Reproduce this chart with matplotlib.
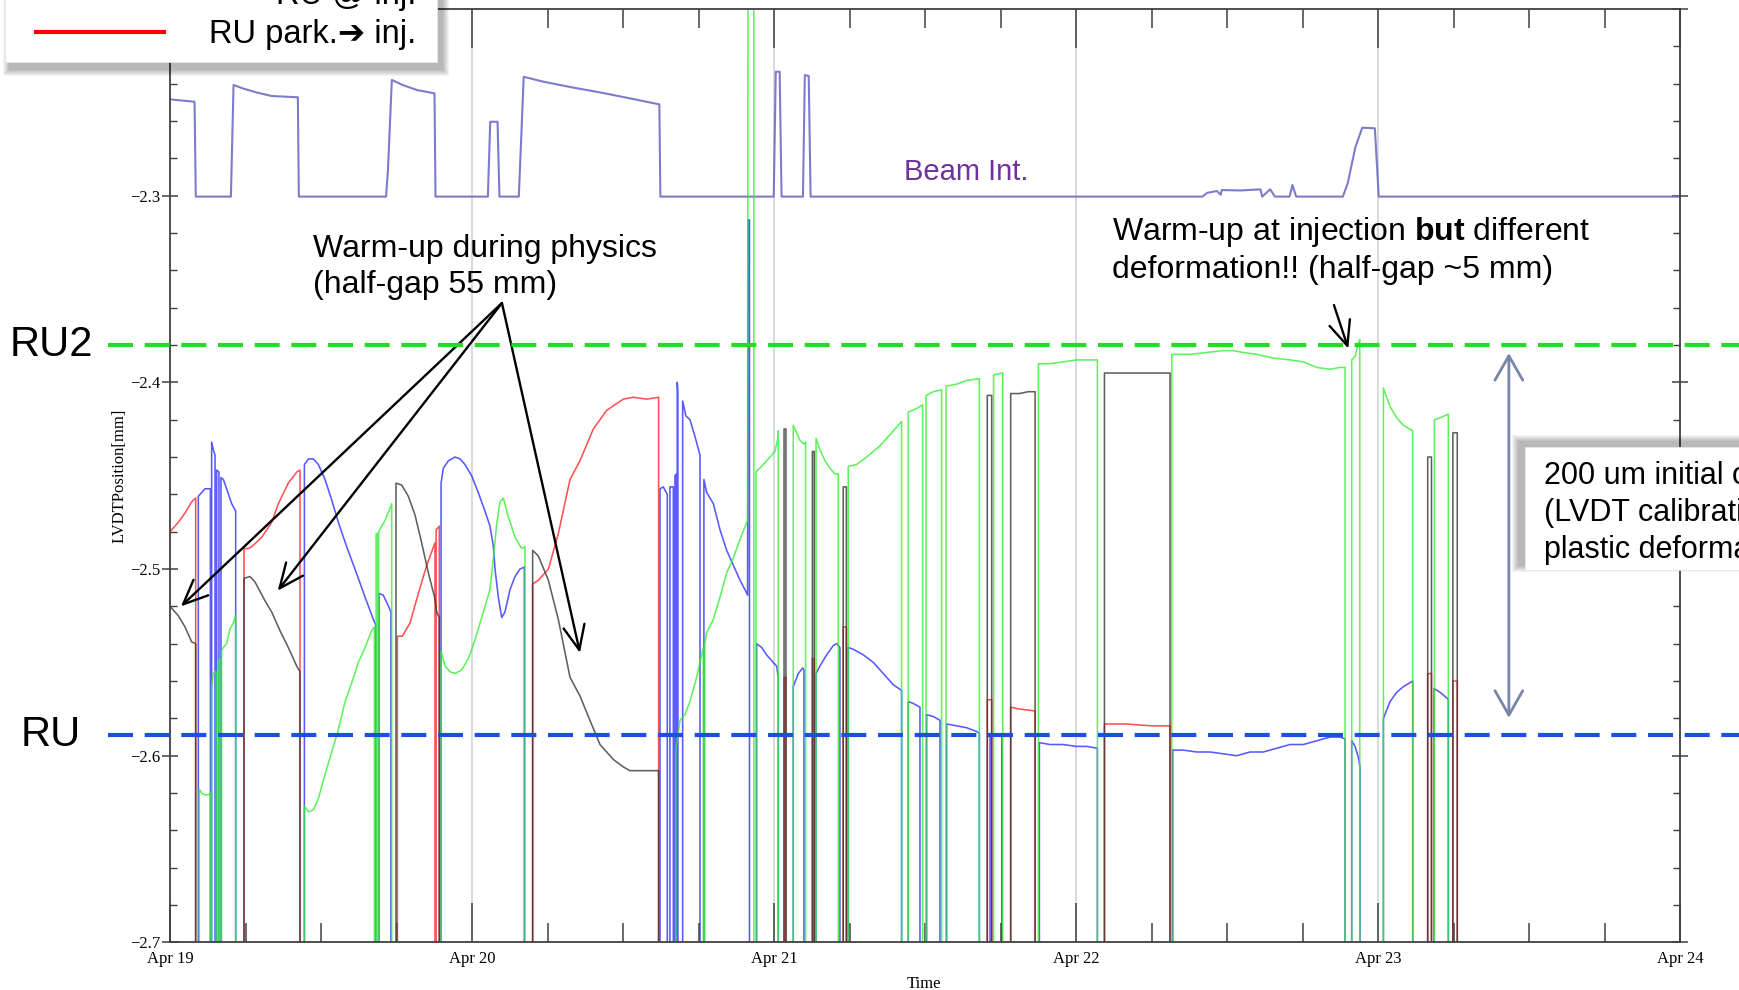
import matplotlib
matplotlib.use('Agg')
import matplotlib.pyplot as plt
import matplotlib.transforms as mtransforms
from matplotlib.patches import Rectangle
from matplotlib.lines import Line2D
import numpy as np

W, H = 1739, 990
plt.rcParams['mathtext.fontset'] = 'custom'
plt.rcParams['mathtext.rm'] = 'Liberation Sans'
plt.rcParams['mathtext.bf'] = 'Liberation Sans:bold'
SANS = ['Liberation Sans', 'DejaVu Sans']
SERIF = 'Liberation Serif'

# ---------------- data (time in hours since Apr 19 00:00, LVDT position in mm) -------------
OFF = -2.95   # reading when sensor channel is off (below chart)

day_labels = ['Apr 19', 'Apr 20', 'Apr 21', 'Apr 22', 'Apr 23', 'Apr 24']
RU2_LEVEL = -2.38
RU_LEVEL = -2.589

beam_t = [0.0, 1.95, 2.05, 4.84, 5.05, 5.77, 6.92, 8.08, 10.16, 10.24, 17.17, 17.32, 17.63, 18.48,
          19.63, 21.02, 21.10, 25.26, 25.45, 26.03, 26.18, 27.72, 28.11, 29.65, 31.96, 34.27, 36.58,
          38.89, 38.97, 47.98, 48.14, 48.45, 48.60, 50.30, 50.45, 50.76, 50.91, 82.04, 82.42, 83.19,
          83.50, 83.58, 85.12, 86.66, 86.80, 87.43, 87.81, 88.97, 89.20, 89.50, 93.21, 93.59, 94.21,
          94.75, 95.75, 96.06, 120.0]
beam_v = [-2.2484, -2.2497, -2.3005, -2.3005, -2.2407, -2.2425, -2.2448, -2.2466, -2.2473, -2.3005,
          -2.3005, -2.2863, -2.2380, -2.2407, -2.2434, -2.2452, -2.3005, -2.3005, -2.2604, -2.2604,
          -2.3005, -2.3005, -2.2363, -2.2389, -2.2420, -2.2448, -2.2479, -2.2511, -2.3005, -2.3005,
          -2.2336, -2.2336, -2.3005, -2.3005, -2.2354, -2.2359, -2.3005, -2.3005, -2.2985, -2.2975,
          -2.2995, -2.2970, -2.2972, -2.2966, -2.3005, -2.2966, -2.3005, -2.3005, -2.2943, -2.3005,
          -2.3005, -2.2934, -2.2738, -2.2636, -2.2639, -2.3005, -2.3005]

red_segments = [
    ([0.0, 0.66, 1.19, 1.72, 2.04], [-2.480, -2.475, -2.470, -2.464, -2.462]),
    ([5.88, 6.23, 6.49, 7.29, 8.08, 8.61, 9.40, 10.07, 10.33],
     [-2.489, -2.489, -2.488, -2.483, -2.475, -2.465, -2.454, -2.448, -2.447]),
    ([18.07, 18.46, 19.07, 19.74, 20.40, 21.06], [-2.536, -2.536, -2.529, -2.513, -2.498, -2.486]),
    ([21.15, 21.40], [-2.479, -2.477]),
    ([28.82, 29.27, 30.07, 30.86, 31.79, 32.58, 33.64, 34.70, 36.02, 36.82, 37.88, 38.83],
     [-2.508, -2.506, -2.500, -2.481, -2.452, -2.442, -2.425, -2.415, -2.409, -2.408, -2.409, -2.408]),
    ([48.80, 48.95], [-2.558, -2.558]),
    ([51.05, 51.20], [-2.548, -2.548]),
    ([53.50, 53.75], [-2.531, -2.531]),
    ([64.95, 65.30], [-2.570, -2.570]),
    ([66.81, 67.50, 68.75], [-2.574, -2.575, -2.576]),
    ([74.26, 76.00, 78.00, 79.47], [-2.583, -2.583, -2.584, -2.584]),
    ([99.95, 100.25], [-2.556, -2.556]),
    ([101.95, 102.30], [-2.560, -2.560]),
]

black_segments = [
    ([0.0, 0.66, 1.19, 1.72, 2.04], [-2.520, -2.525, -2.531, -2.539, -2.540]),
    ([5.88, 6.36, 6.76, 7.55, 8.08, 8.74, 9.40, 10.07, 10.33],
     [-2.505, -2.504, -2.507, -2.517, -2.523, -2.533, -2.542, -2.552, -2.555]),
    ([17.96, 18.41, 18.94, 19.47, 20.00, 20.53, 21.06, 21.19, 21.40],
     [-2.454, -2.455, -2.461, -2.471, -2.486, -2.502, -2.516, -2.523, -2.526]),
    ([28.82, 29.27, 30.07, 30.86, 31.79, 32.58, 33.37, 34.17, 35.23, 36.02, 36.55, 37.88, 38.83],
     [-2.490, -2.493, -2.506, -2.527, -2.558, -2.568, -2.581, -2.594, -2.602, -2.606, -2.608, -2.608, -2.608]),
    ([48.80, 48.95], [-2.425, -2.425]),
    ([51.05, 51.20], [-2.437, -2.437]),
    ([53.50, 53.75], [-2.456, -2.456]),
    ([64.95, 65.30], [-2.407, -2.407]),
    ([66.81, 67.50, 68.20, 68.75], [-2.406, -2.406, -2.405, -2.405]),
    ([74.26, 76.00, 78.00, 79.47], [-2.395, -2.395, -2.395, -2.395]),
    ([99.95, 100.25], [-2.440, -2.440]),
    ([101.95, 102.30], [-2.427, -2.427]),
]

blue_segments = [
    ([2.25, 2.78, 3.21], [-2.461, -2.457, -2.457]),
    ([3.31, 3.44, 3.58], [-2.432, -2.436, -2.439]),
    ([3.71, 3.89], [-2.447, -2.448]),
    ([4.05, 4.24, 4.50, 4.90, 5.22], [-2.451, -2.452, -2.457, -2.465, -2.469]),
    ([10.68, 11.00, 11.39, 11.79, 12.32, 12.85, 13.38, 14.04, 14.70, 15.50, 16.16, 16.35],
     [-2.444, -2.441, -2.441, -2.444, -2.452, -2.463, -2.475, -2.488, -2.500, -2.515, -2.527, -2.530]),
    ([16.61, 16.95, 17.30, 17.56], [-2.513, -2.514, -2.519, -2.523]),
    ([21.54, 21.72, 22.12, 22.65, 23.05, 23.44, 23.97, 24.50, 25.03, 25.43, 25.70, 25.83, 26.09,
      26.36, 26.62, 27.02, 27.42, 27.81, 28.16],
     [-2.454, -2.446, -2.442, -2.440, -2.441, -2.444, -2.450, -2.459, -2.469, -2.477, -2.488, -2.500,
      -2.515, -2.526, -2.523, -2.511, -2.504, -2.500, -2.499]),
    ([38.94, 39.20, 39.52], [-2.457, -2.456, -2.460]),
    ([39.73, 40.00], [-2.456, -2.456]),
    ([40.13, 40.26], [-2.450, -2.449]),
    ([40.31, 40.36], [-2.400, -2.405]),
    ([40.74, 41.00, 41.32, 41.72, 42.12], [-2.410, -2.418, -2.420, -2.429, -2.439]),
    ([42.43, 42.65, 43.18, 43.71, 44.24, 44.77, 45.30, 45.69, 45.90, 45.95, 46.05],
     [-2.452, -2.459, -2.465, -2.479, -2.490, -2.498, -2.506, -2.511, -2.514, -2.313, -2.313]),
    ([46.62, 47.02, 47.41, 47.81, 48.21, 48.34], [-2.540, -2.542, -2.546, -2.549, -2.552, -2.558]),
    ([49.53, 49.93, 50.28, 50.38], [-2.563, -2.556, -2.553, -2.554]),
    ([51.34, 51.65, 52.18, 52.71, 52.98, 53.24], [-2.556, -2.552, -2.546, -2.541, -2.540, -2.542]),
    ([53.90, 54.30, 55.10, 55.89, 56.69, 57.48, 58.14],
     [-2.542, -2.543, -2.546, -2.550, -2.556, -2.562, -2.565]),
    ([58.67, 59.07, 59.60], [-2.571, -2.572, -2.574]),
    ([60.13, 60.66, 61.19], [-2.578, -2.579, -2.581]),
    ([61.72, 62.51, 63.31, 64.10, 64.32], [-2.583, -2.584, -2.585, -2.587, -2.588]),
    ([65.17, 66.10], [-2.589, -2.589]),
    ([69.09, 69.94, 71.00, 72.00, 72.85, 73.70], [-2.593, -2.594, -2.594, -2.595, -2.595, -2.596]),
    ([79.69, 80.53, 81.59, 82.65, 83.71, 84.77, 85.83, 86.89, 87.95, 89.01, 90.07, 91.13, 92.19,
      92.98, 93.38],
     [-2.597, -2.597, -2.598, -2.598, -2.599, -2.600, -2.598, -2.598, -2.596, -2.594, -2.594, -2.592,
      -2.590, -2.590, -2.591]),
    ([93.91, 94.18, 94.44, 94.57], [-2.592, -2.595, -2.601, -2.606]),
    ([96.43, 96.96, 97.49, 98.02, 98.76], [-2.580, -2.571, -2.566, -2.563, -2.560]),
    ([100.45, 100.93, 101.46, 101.59], [-2.564, -2.566, -2.569, -2.570]),
]

green_segments = [
    ([2.33, 2.52, 2.78, 3.05, 3.20], [-2.618, -2.620, -2.621, -2.621, -2.620]),
    ([3.30, 3.44, 3.58, 3.66], [-2.563, -2.556, -2.555, -2.555]),
    ([3.85, 3.95], [-2.550, -2.548]),
    ([4.10, 4.24, 4.50, 4.77, 5.03, 5.22], [-2.544, -2.542, -2.540, -2.532, -2.529, -2.525]),
    ([10.68, 11.00, 11.39, 11.79, 12.32, 12.85, 13.38, 13.91, 14.44, 14.97, 15.50, 16.03, 16.24],
     [-2.627, -2.630, -2.629, -2.623, -2.610, -2.598, -2.586, -2.571, -2.561, -2.550, -2.542, -2.533, -2.531]),
    ([16.38, 16.46], [-2.481, -2.481]),
    ([16.58, 17.09, 17.62], [-2.480, -2.474, -2.465]),
    ([21.54, 21.86, 22.25, 22.65, 23.18, 23.71, 24.24, 24.90, 25.43, 25.70, 25.96, 26.23, 26.49,
      26.89, 27.42, 27.95, 28.21],
     [-2.544, -2.552, -2.555, -2.556, -2.554, -2.548, -2.538, -2.523, -2.511, -2.494, -2.476, -2.464,
      -2.462, -2.472, -2.483, -2.489, -2.488]),
    ([40.20, 40.53, 40.92, 41.32, 41.85, 42.38], [-2.597, -2.581, -2.578, -2.571, -2.558, -2.542]),
    ([42.50, 42.65, 43.18, 43.71, 44.24, 44.77, 45.30, 45.83, 45.90, 45.95, 46.40],
     [-2.540, -2.534, -2.527, -2.515, -2.502, -2.494, -2.484, -2.475, -2.474, -2.0, -2.0]),
    ([46.57, 47.15, 47.68, 48.08, 48.30, 48.34], [-2.448, -2.444, -2.440, -2.437, -2.430, -2.426]),
    ([49.53, 49.80, 50.06, 50.38, 50.51], [-2.423, -2.427, -2.431, -2.433, -2.432]),
    ([51.34, 51.65, 52.05, 52.45, 52.84, 53.11], [-2.430, -2.436, -2.442, -2.446, -2.449, -2.449]),
    ([53.90, 54.57, 55.36, 56.42, 57.22, 58.14], [-2.445, -2.444, -2.440, -2.434, -2.428, -2.421]),
    ([58.67, 59.34, 59.81], [-2.416, -2.414, -2.412]),
    ([60.08, 60.66, 61.32], [-2.407, -2.405, -2.404]),
    ([61.67, 62.51, 63.31, 64.32], [-2.402, -2.401, -2.399, -2.398]),
    ([65.45, 66.18], [-2.396, -2.395]),
    ([69.01, 69.94, 71.00, 72.06, 73.12, 73.70], [-2.390, -2.390, -2.389, -2.388, -2.388, -2.388]),
    ([79.61, 81.06, 82.39, 83.71, 84.51, 85.30, 86.36, 87.69, 89.01, 90.07, 91.13, 92.19, 92.98, 93.38],
     [-2.385, -2.385, -2.384, -2.383, -2.383, -2.384, -2.385, -2.387, -2.388, -2.389, -2.392, -2.393,
      -2.392, -2.392]),
    ([93.91, 94.18, 94.44, 94.55], [-2.388, -2.386, -2.379, -2.377]),
    ([96.43, 96.96, 97.49, 98.02, 98.76], [-2.403, -2.413, -2.419, -2.423, -2.426]),
    ([100.48, 100.93, 101.59], [-2.420, -2.419, -2.417]),
]


def build(segments):
    xs, ys = [], []
    for t, v in segments:
        if t[0] > 0:
            xs.append(t[0]); ys.append(OFF)
        xs.extend(t); ys.extend(v)
        xs.append(t[-1]); ys.append(OFF)
    return xs, ys


# ---------------- figure ----------------
fig = plt.figure(figsize=(W / 100, H / 100), dpi=100)
fig.patch.set_facecolor('white')
ax = fig.add_axes([170 / W, 1 - 942.4 / H, 1510 / W, 933.4 / H])
pix = mtransforms.Affine2D().scale(1 / W, -1 / H).translate(0, 1) + fig.transFigure
blend = mtransforms.blended_transform_factory(pix, ax.transData)

ax.set_xlim(0, 120)
ax.set_ylim(-2.7, -2.2)

for d in [24, 48, 72, 96]:
    ax.axvline(d, color='#d4d4d4', lw=1.2, zorder=0.5)

ax.plot(beam_t, beam_v, color='#6e6ec6', lw=1.5, alpha=0.9, zorder=2)
for segs, col in [(blue_segments, '#2a2aff'), (green_segments, '#33ee33'),
                  (red_segments, '#ff2222'), (black_segments, '#333333')]:
    xs, ys = build(segs)
    ax.plot(xs, ys, color=col, lw=1.15, alpha=0.78, zorder=2)

# axes styling
for s in ax.spines.values():
    s.set_color('#404040')
    s.set_linewidth(1.3)
ax.set_xticks([0, 24, 48, 72, 96, 120])
ax.set_xticklabels(day_labels, fontfamily=SERIF, fontsize=12)
ax.set_xticks(np.arange(0, 121, 6), minor=True)
yt = [-2.7, -2.6, -2.5, -2.4, -2.3, -2.2]
ax.set_yticks(yt)
ax.set_yticklabels(['\u2212%.1f' % abs(v) for v in yt], fontfamily=SERIF, fontsize=12)
ax.set_yticks(np.arange(-2.7, -2.199, 0.02), minor=True)
ax.tick_params(axis='x', which='major', direction='in', length=28, width=1.1, color='#404040',
               top=True, pad=6)
ax.tick_params(axis='x', which='minor', direction='in', length=14, width=1.1, color='#404040', top=True)
ax.tick_params(axis='y', which='major', direction='inout', length=12, width=1.1, color='#404040',
               right=True, pad=1)
ax.tick_params(axis='y', which='minor', direction='in', length=5, width=1.0, color='#404040', right=True)
ax.set_ylabel('LVDTPosition[mm]', fontfamily=SERIF, fontsize=12)
ax.yaxis.set_label_coords(-0.0284, 0.5)
ax.set_xlabel('Time', fontfamily=SERIF, fontsize=12)
ax.xaxis.set_label_coords(0.4993, -0.036)

# annotations
ax.text(58.3, -2.2874, 'Beam Int.', color='#7030a0', fontsize=21, family=SANS, va='center', zorder=5)
arrow_kw = dict(arrowstyle='->,head_length=0.8,head_width=0.35', lw=1.7, color='black',
                shrinkA=0, shrinkB=0, mutation_scale=22)
tail = (26.38, -2.3575)
for head in [(0.87, -2.520), (8.56, -2.5116), (32.58, -2.5449)]:
    ax.annotate('', xy=head, xytext=tail, arrowprops=arrow_kw, zorder=6)
ax.annotate('', xy=(93.64, -2.3819), xytext=(92.50, -2.3586), arrowprops=arrow_kw, zorder=6)
ax.annotate('', xy=(106.4, -2.3843), xytext=(106.4, -2.5797),
            arrowprops=dict(arrowstyle='<->,head_length=0.7,head_width=0.4', lw=2.0,
                            color='#7885a8', shrinkA=0, shrinkB=0, mutation_scale=25), zorder=6)

fig.text(313, 267, 'Warm-up during physics\n(half-gap 55 mm)', transform=pix, fontsize=23,
         family=SANS, ha='left', va='center', linespacing=1.3, zorder=5)
fig.text(1112, 250, 'Warm-up at injection $\\mathbf{but}$ different\ndeformation!! (half-gap ~5 mm)',
         transform=pix, fontsize=23, family=SANS, ha='left', va='center', linespacing=1.3, zorder=5)

# reference levels
for lvl, col, lab in [(RU2_LEVEL, '#22dd22', 'RU2'), (RU_LEVEL, '#1a4fe6', 'RU')]:
    fig.add_artist(Line2D([108, W + 5], [lvl, lvl], transform=blend, color=col, lw=3.0,
                          dashes=(6, 2.8), zorder=3))
    fig.text(51, lvl, lab, transform=blend, fontsize=30, family=SANS, ha='center', va='center',
             zorder=5)


def shadow_box(x0, y0, x1, y1, dx, dy, z):
    for k in range(7):
        g = 7 - k
        fig.add_artist(Rectangle((x0 + dx - g, y0 + dy - g), (x1 - x0) + 2 * g, (y1 - y0) + 2 * g,
                                 transform=pix, facecolor='#000000', edgecolor='none', alpha=0.045,
                                 zorder=z))
    fig.add_artist(Rectangle((x0, y0), x1 - x0, y1 - y0, transform=pix, facecolor='white',
                             edgecolor='#e6e6e6', lw=0.6, zorder=z + 0.1))


# legend box (top left, partly outside)
shadow_box(5, -30, 437, 62, 5, 7, 7)
fig.add_artist(Line2D([36, 164], [32, 32], transform=pix, color='#ff0000', lw=3.0, zorder=8))
fig.text(416, 4, 'RU @ inj.', transform=pix, fontsize=23.5, family=SANS, ha='right', va='baseline', zorder=8)
fig.text(416, 43, 'RU park.\u2794 inj.', transform=pix, fontsize=23.5, family=SANS, ha='right',
         va='baseline', zorder=8)

# right note box
shadow_box(1525, 447, 1800, 570, -6, -5, 7)
fig.text(1544, 513, '200 um initial offset\n(LVDT calibration?\nplastic deformation)', transform=pix,
         fontsize=22, family=SANS, ha='left', va='center', linespacing=1.3, zorder=8)

fig.savefig('out.png', dpi=100)
